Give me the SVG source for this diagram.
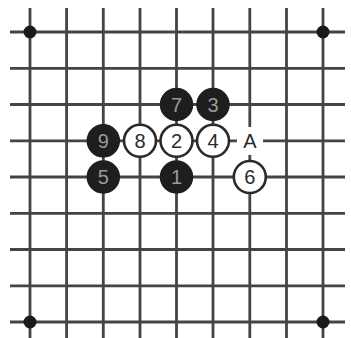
<svg xmlns="http://www.w3.org/2000/svg" width="351" height="338" viewBox="0 0 351 338">
<style>
.g{stroke:#444;stroke-width:2.8;fill:none}
.hoshi{fill:#1a1a1a}
.b{fill:#1e1e1e;stroke:#1e1e1e;stroke-width:1.5}
.w{fill:#fff;stroke:#2a2a2a;stroke-width:2.6}
.tb{font-family:"Liberation Sans",Arial,sans-serif;font-size:20px;fill:#9a9a9a;text-anchor:middle;dominant-baseline:central}
.tw{font-family:"Liberation Sans",Arial,sans-serif;font-size:20px;fill:#2a2a2a;text-anchor:middle;dominant-baseline:central}
</style>
<rect width="351" height="338" fill="#fff"/>
<g id="grid" class="g">
<path d="M30 8V338M66.6 8V338M103.3 8V338M140 8V338M176.5 8V338M213 8V338M249.8 8V338M286.5 8V338M323 8V338"/>
<path d="M10 32H345M10 68.3H345M10 104.5H345M10 140.8H345M10 177H345M10 213.3H345M10 249.5H345M10 285.8H345M10 322H345"/>
</g>
<g id="hoshi">
<circle class="hoshi" cx="30" cy="32" r="6.5"/>
<circle class="hoshi" cx="323" cy="32" r="6.5"/>
<circle class="hoshi" cx="30" cy="322" r="6.5"/>
<circle class="hoshi" cx="323" cy="322" r="6.5"/>
</g>
<g id="s1"><circle class="b" cx="176.5" cy="177" r="16"/><text class="tb" x="176.5" y="177">1</text></g>
<g id="s2"><circle class="w" cx="176.5" cy="140.8" r="16"/><text class="tw" x="176.5" y="140.8">2</text></g>
<g id="s3"><circle class="b" cx="213" cy="104.5" r="16"/><text class="tb" x="213" y="104.5">3</text></g>
<g id="s4"><circle class="w" cx="213" cy="140.8" r="16"/><text class="tw" x="213" y="140.8">4</text></g>
<g id="s5"><circle class="b" cx="103.3" cy="177" r="16"/><text class="tb" x="103.3" y="177">5</text></g>
<g id="s6"><circle class="w" cx="249.8" cy="177" r="16"/><text class="tw" x="249.8" y="177">6</text></g>
<g id="s7"><circle class="b" cx="176.5" cy="104.5" r="16"/><text class="tb" x="176.5" y="104.5">7</text></g>
<g id="s8"><circle class="w" cx="140" cy="140.8" r="16"/><text class="tw" x="140" y="140.8">8</text></g>
<g id="s9"><circle class="b" cx="103.3" cy="140.8" r="16"/><text class="tb" x="103.3" y="140.8">9</text></g>
<g id="markA"><rect x="237" y="127" width="26" height="28" fill="#fff"/><text class="tw" x="249.8" y="140.8" font-size="22">A</text></g>
</svg>
